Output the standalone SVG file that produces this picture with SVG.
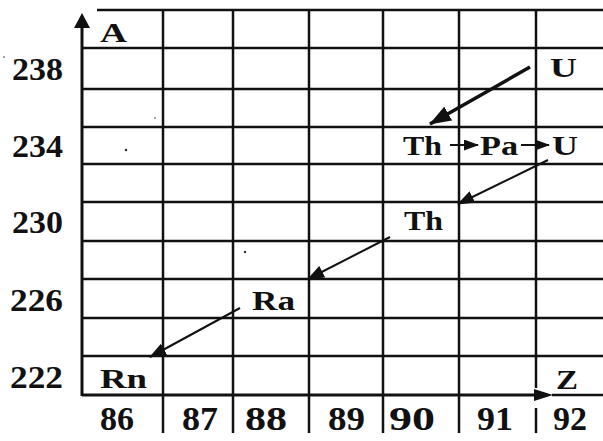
<svg xmlns="http://www.w3.org/2000/svg" width="603" height="441" viewBox="0 0 603 441">
<style>
.g{stroke:#111;stroke-width:2.5;fill:none}
.ax{stroke:#111;stroke-width:3;fill:none}
.t{font-family:"Liberation Serif","Times New Roman",serif;font-weight:bold;fill:#111}
.n{font-size:31px}
.m{font-size:33px}
.e{font-size:28px}
.thin{stroke:#111;stroke-width:2;fill:none}
.thick{stroke:#111;stroke-width:3.5;fill:none}
</style>
<defs>
<marker id="ah" markerUnits="userSpaceOnUse" markerWidth="22" markerHeight="16" refX="21" refY="8" orient="auto"><path d="M0,0 L22,8 L0,16 z" fill="#111"/></marker>
<marker id="as" markerUnits="userSpaceOnUse" markerWidth="17" markerHeight="13" refX="16" refY="6.5" orient="auto"><path d="M0,0 L17,6.5 L0,13 z" fill="#111"/></marker>
<marker id="ax" markerUnits="userSpaceOnUse" markerWidth="15" markerHeight="11" refX="14" refY="5.5" orient="auto"><path d="M0,0 L15,5.5 L0,11 z" fill="#111"/></marker>
</defs>
<rect width="603" height="441" fill="#fff"/>
<g id="grid">
<line class="g" x1="97" y1="10" x2="603" y2="10"/>
<line class="g" x1="82" y1="48" x2="603" y2="48"/>
<line class="g" x1="82" y1="89" x2="603" y2="89"/>
<line class="g" x1="82" y1="127" x2="603" y2="127"/>
<line class="g" x1="82" y1="164" x2="603" y2="164"/>
<line class="g" x1="82" y1="202" x2="603" y2="202"/>
<line class="g" x1="82" y1="241" x2="603" y2="241"/>
<line class="g" x1="82" y1="279" x2="603" y2="279"/>
<line class="g" x1="82" y1="318" x2="603" y2="318"/>
<line class="g" x1="82" y1="356" x2="603" y2="356"/>
<line class="g" x1="163" y1="10" x2="163" y2="433"/>
<line class="g" x1="233" y1="10" x2="233" y2="433"/>
<line class="g" x1="309" y1="10" x2="309" y2="433"/>
<line class="g" x1="383" y1="10" x2="383" y2="433"/>
<line class="g" x1="459" y1="10" x2="459" y2="433"/>
<line class="g" x1="536" y1="10" x2="536" y2="388"/>
<line class="g" x1="536" y1="408" x2="536" y2="433"/>
</g>
<g id="axes">
<line class="ax" x1="82" y1="396" x2="82" y2="27"/>
<path d="M82,13 L90,28 L74,28 z" fill="#111"/>
<line class="ax" x1="82" y1="395" x2="536" y2="395"/>
<path d="M553,395 L534,389 L534,401 z" fill="#111"/>
<line class="g" x1="552" y1="395" x2="603" y2="395"/>
<text class="t e" x="100" y="42" textLength="27" lengthAdjust="spacingAndGlyphs">A</text>
<text class="t e" x="556" y="389" textLength="22" lengthAdjust="spacingAndGlyphs">Z</text>
</g>
<g id="ylabels">
<text class="t n" x="12" y="80" textLength="51" lengthAdjust="spacingAndGlyphs">238</text>
<text class="t n" x="12" y="157" textLength="51" lengthAdjust="spacingAndGlyphs">234</text>
<text class="t n" x="12" y="233" textLength="51" lengthAdjust="spacingAndGlyphs">230</text>
<text class="t n" x="10" y="311" textLength="53" lengthAdjust="spacingAndGlyphs">226</text>
<text class="t n" x="10" y="388" textLength="53" lengthAdjust="spacingAndGlyphs">222</text>
</g>
<g id="xlabels">
<text class="t m" x="100" y="430" textLength="34" lengthAdjust="spacingAndGlyphs">86</text>
<text class="t m" x="182" y="430" textLength="36" lengthAdjust="spacingAndGlyphs">87</text>
<text class="t m" x="245" y="430" textLength="42" lengthAdjust="spacingAndGlyphs">88</text>
<text class="t m" x="328" y="430" textLength="37" lengthAdjust="spacingAndGlyphs">89</text>
<text class="t m" x="389" y="430" textLength="46" lengthAdjust="spacingAndGlyphs">90</text>
<text class="t m" x="477" y="430" textLength="36" lengthAdjust="spacingAndGlyphs">91</text>
<text class="t m" x="553" y="430" textLength="34" lengthAdjust="spacingAndGlyphs">92</text>
</g>
<g id="U238"><text class="t e" x="550" y="77" textLength="27" lengthAdjust="spacingAndGlyphs">U</text></g>
<g id="Th234"><text class="t e" x="403" y="155" textLength="39" lengthAdjust="spacingAndGlyphs">Th</text></g>
<g id="Pa234"><text class="t e" x="480" y="155" textLength="38" lengthAdjust="spacingAndGlyphs">Pa</text></g>
<g id="U234"><text class="t e" x="552" y="155" textLength="26" lengthAdjust="spacingAndGlyphs">U</text></g>
<g id="Th230"><text class="t e" x="404" y="230" textLength="39" lengthAdjust="spacingAndGlyphs">Th</text></g>
<g id="Ra226"><text class="t e" x="252" y="310" textLength="43" lengthAdjust="spacingAndGlyphs">Ra</text></g>
<g id="Rn222"><text class="t e" x="100" y="388" textLength="47" lengthAdjust="spacingAndGlyphs">Rn</text></g>
<g id="connectors">
<line class="thick" x1="530" y1="67" x2="430" y2="124" marker-end="url(#ah)"/>
<line class="thin" x1="450" y1="145" x2="478" y2="145" marker-end="url(#ax)"/>
<line class="thin" x1="521" y1="145" x2="549" y2="145" marker-end="url(#ax)"/>
<line class="thin" x1="548" y1="160" x2="458" y2="204" marker-end="url(#as)"/>
<line class="thin" x1="390" y1="237" x2="308" y2="279" marker-end="url(#as)"/>
<line class="thin" x1="240" y1="308" x2="150" y2="357" marker-end="url(#as)"/>
</g>
<g id="specks" fill="#333">
<circle cx="126" cy="150" r="1.3"/>
<circle cx="245" cy="252" r="1.2"/>
<circle cx="155" cy="118" r="0.8"/>
<circle cx="4" cy="57" r="0.8"/>
</g>
</svg>
